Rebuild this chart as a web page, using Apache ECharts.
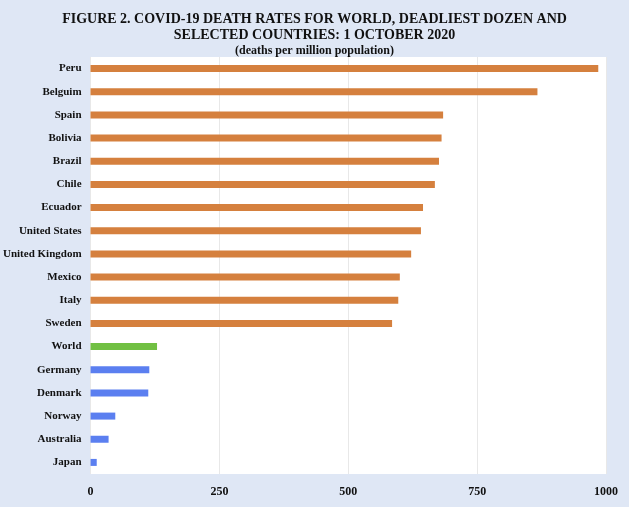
<!DOCTYPE html>
<html>
<head>
<meta charset="utf-8">
<script src="https://cdn.jsdelivr.net/npm/echarts@6/dist/echarts.min.js"></script>
<style>
  html, body { margin: 0; padding: 0; background: #dfe7f5; }
  #chart { width: 629px; height: 507px; }
</style>
</head>
<body>
<div id="chart"></div>
<script>
// countries top to bottom
const countries = ['Peru', 'Belguim', 'Spain', 'Bolivia', 'Brazil', 'Chile', 'Ecuador', 'United States',
  'United Kingdom', 'Mexico', 'Italy', 'Sweden', 'World', 'Germany', 'Denmark', 'Norway', 'Australia', 'Japan']
const deaths = [985, 867, 684, 681, 676, 668, 645, 641, 622, 600, 597, 585, 129, 114, 112, 48, 35, 12]
const groups = ['d', 'd', 'd', 'd', 'd', 'd', 'd', 'd', 'd', 'd', 'd', 'd', 'w', 's', 's', 's', 's', 's']
const groupColor = { d: '#d5803e', w: '#71c043', s: '#5b7ff0' }
const xTicks = [0, 250, 500, 750, 1000]

const font = '"Liberation Serif", "Times New Roman", serif'
const chart = echarts.init(document.getElementById('chart'))
chart.setOption({
  backgroundColor: '#dfe7f5',
  title: {
    text: 'FIGURE 2. COVID-19 DEATH RATES FOR WORLD, DEADLIEST DOZEN AND\nSELECTED COUNTRIES: 1 OCTOBER 2020',
    subtext: '(deaths per million population)',
    left: 'center',
    top: 6,
    itemGap: 2,
    textStyle: { fontFamily: font, fontWeight: 'bold', fontSize: 14, color: '#111', lineHeight: 16 },
    subtextStyle: { fontFamily: font, fontWeight: 'bold', fontSize: 12, color: '#111' }
  },
  grid: { left: 88, right: 23, top: 57, bottom: 33, backgroundColor: '#fff', show: true, borderWidth: 0 },
  xAxis: {
    type: 'value', min: 0, max: 1000, interval: 250,
    axisLine: { show: false }, axisTick: { show: false },
    splitLine: { lineStyle: { color: '#e8e8e8' } },
    axisLabel: { fontFamily: font, fontWeight: 'bold', fontSize: 12, color: '#111', margin: 12,
      formatter: v => xTicks.includes(v) ? String(v) : '' }
  },
  yAxis: {
    type: 'category', inverse: true, data: countries,
    axisLine: { show: false }, axisTick: { show: false },
    axisLabel: { fontFamily: font, fontWeight: 'bold', fontSize: 11, color: '#111', margin: 9 }
  },
  series: [{
    type: 'bar',
    barWidth: 7,
    data: deaths.map((v, i) => ({ value: v, itemStyle: { color: groupColor[groups[i]] } }))
  }]
})
</script>
</body>
</html>
